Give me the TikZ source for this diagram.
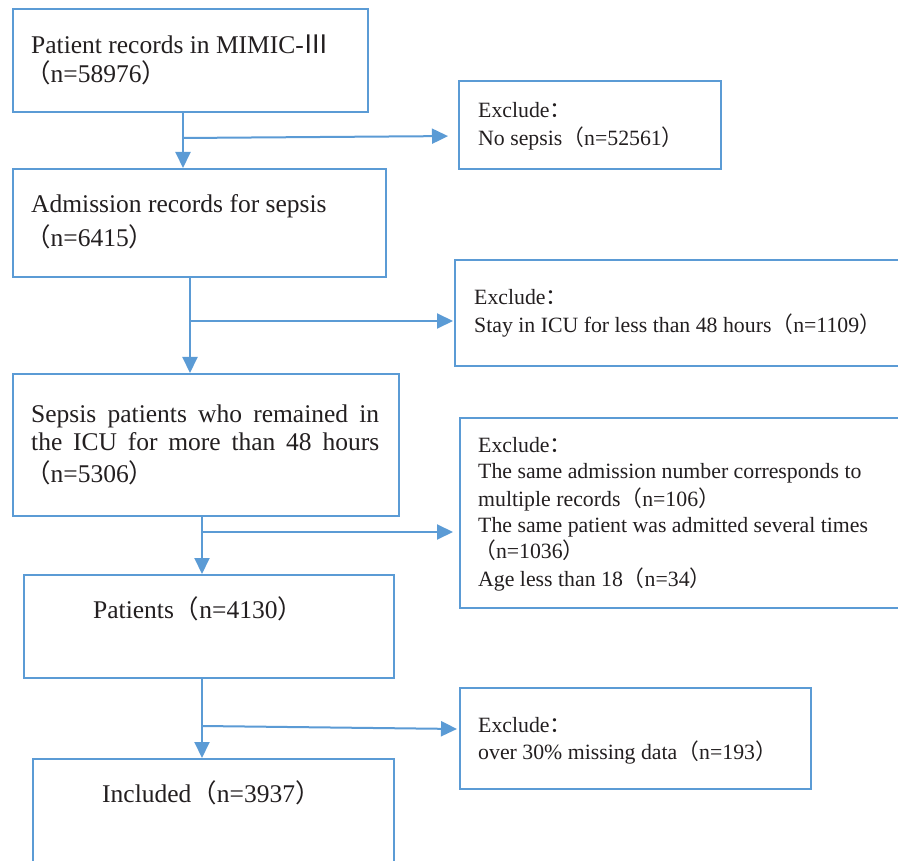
\documentclass[tikz,border=0pt]{standalone}
\usepackage{fontspec}
\setmainfont{Liberation Serif}
\newfontfamily\cjk{Noto Sans CJK SC}
\usetikzlibrary{arrows.meta}
\definecolor{lineblue}{HTML}{5B9BD5}
\definecolor{ink}{HTML}{231F20}
\newcommand\zkL{{\cjk （}}
\newcommand\zkR{{\cjk ）}}
\newcommand\zkC{{\cjk ：}}
\begin{document}
\begin{tikzpicture}[x=1pt,y=-1pt,
  box/.style={draw=lineblue, line width=2pt, rectangle, inner sep=0pt, anchor=north west},
  maintxt/.style={anchor=base west, inner sep=0pt, text=ink, font=\fontsize{25.5}{30}\selectfont},
  exctxt/.style={anchor=base west, inner sep=0pt, text=ink, font=\fontsize{21.8}{26}\selectfont},
  flow/.style={draw=lineblue, line width=2pt},
  arr/.style={flow, -{Triangle[length=16pt,width=15pt]}}]
\useasboundingbox (0,0) rectangle (898,861);
\clip (0,0) rectangle (898,861);
\fill[white] (0,0) rectangle (898,861);

% main boxes
\node[box, minimum width=355pt, minimum height=103pt] (b1) at (12,8) {};
\node[box, minimum width=373pt, minimum height=108pt] (b2) at (12,168) {};
\node[box, minimum width=386pt, minimum height=142pt] (b3) at (12,373) {};
\node[box, minimum width=370pt, minimum height=103pt] (b4) at (23,574) {};
\node[box, minimum width=361pt, minimum height=122pt] (b5) at (32,758) {};

% exclusion boxes
\node[box, minimum width=262pt, minimum height=88pt] (e1) at (458,80) {};
\node[box, minimum width=456pt, minimum height=106pt] (e2) at (454,259) {};
\node[box, minimum width=451pt, minimum height=190pt] (e3) at (459,417) {};
\node[box, minimum width=351pt, minimum height=101pt] (e4) at (459,687) {};

% main texts
\node[maintxt] (t1a) at (31,54) {Patient records in MIMIC-{\cjk Ⅲ}};
\node[maintxt] (t1b) at (25,83) {\zkL n=58976\zkR};
\node[maintxt] (t2a) at (31,213) {Admission records for sepsis};
\node[maintxt] (t2b) at (25,247) {\zkL n=6415\zkR};
\node[maintxt] (t3a) at (31,422) {\makebox[348pt][s]{Sepsis patients who remained in}};
\node[maintxt] (t3b) at (31,450) {\makebox[348pt][s]{the ICU for more than 48 hours}};
\node[maintxt] (t3c) at (25,482) {\zkL n=5306\zkR};
\node[maintxt] (t4) at (93,618) {Patients\zkL n=4130\zkR};
\node[maintxt] (t5) at (102,802) {Included\zkL n=3937\zkR};

% exclusion texts
\node[exctxt] (x1a) at (478,118) {Exclude\zkC};
\node[exctxt] (x1b) at (478,146) {No sepsis\zkL n=52561\zkR};
\node[exctxt] (x2a) at (474,305) {Exclude\zkC};
\node[exctxt] (x2b) at (474,333) {Stay in ICU for less than 48 hours\zkL n=1109\zkR};
\node[exctxt] (x3a) at (478,452) {Exclude\zkC};
\node[exctxt] (x3b) at (478,478) {The same admission number corresponds to};
\node[exctxt] (x3c) at (478,506) {multiple records\zkL n=106\zkR};
\node[exctxt] (x3d) at (478,532) {The same patient was admitted several times};
\node[exctxt] (x3e) at (474,558) {\zkL n=1036\zkR};
\node[exctxt] (x3f) at (478,586) {Age less than 18\zkL n=34\zkR};
\node[exctxt] (x4a) at (478,732) {Exclude\zkC};
\node[exctxt] (x4b) at (478,759) {over 30\% missing data\zkL n=193\zkR};

% junctions
\coordinate (j1) at (183,138);
\coordinate (k1) at (440,136);
\coordinate (j2) at (190,321);
\coordinate (j3) at (202,532);
\coordinate (j4) at (202,726);
\coordinate (k4) at (440,729);

% connectors
\draw[arr] (b1.south -| j1) -- (b2.north -| j1);
\draw[arr, shorten >=10pt] (j1) -- (e1.west |- k1);
\draw[arr] (b2.south -| j2) -- (b3.north -| j2);
\draw[arr, shorten >=1pt] (j2) -- (e2.west |- j2);
\draw[arr] (b3.south -| j3) -- (b4.north -| j3);
\draw[arr, shorten >=6pt] (j3) -- (e3.west |- j3);
\draw[arr] (b4.south -| j4) -- (b5.north -| j4);
\draw[arr, shorten >=2pt] (j4) -- (e4.west |- k4);
\end{tikzpicture}
\end{document}
